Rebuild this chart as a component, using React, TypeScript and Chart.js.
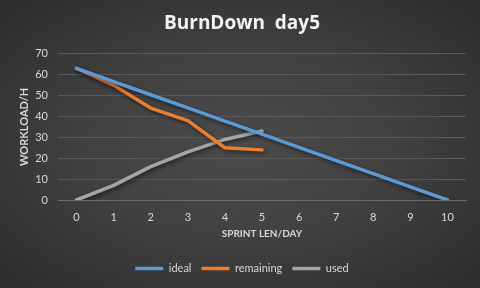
import React, { useEffect, useRef } from "react";
import { Chart, registerables } from "chart.js";

Chart.register(...registerables);

const days = ["0", "1", "2", "3", "4", "5", "6", "7", "8", "9", "10"];
const ideal = [63, 56.7, 50.4, 44.1, 37.8, 31.5, 25.2, 18.9, 12.6, 6.3, 0];
const remaining = [63, 55, 44, 38, 25, 24, null, null, null, null, null];
const used = [0, 7, 16, 23, 29, 33, null, null, null, null, null];

const FONT = "Lato, 'Open Sans', sans-serif";

export default function App() {
  const ref = useRef<HTMLCanvasElement | null>(null);
  useEffect(() => {
    document.body.style.margin = "0";
    const ctx = ref.current!;
    const shadow = {
      id: "shadow",
      beforeDatasetsDraw(chart: any) {
        const c = chart.ctx;
        c.save();
        c.shadowColor = "rgba(0,0,0,0.55)";
        c.shadowBlur = 4;
        c.shadowOffsetX = 1.5;
        c.shadowOffsetY = 2;
      },
      afterDatasetsDraw(chart: any) {
        chart.ctx.restore();
      },
    };
    const line = {
      borderWidth: 3.5,
      pointRadius: 0,
      pointHoverRadius: 0,
      pointStyle: "line" as const,
      borderCapStyle: "round" as const,
      borderJoinStyle: "round" as const,
    };
    const chart = new Chart(ctx, {
      type: "line",
      data: {
        labels: days,
        datasets: [
          { label: "ideal", data: ideal, borderColor: "#5b9bd5", backgroundColor: "#5b9bd5", ...line },
          { label: "remaining", data: remaining, borderColor: "#ed7d31", backgroundColor: "#ed7d31", ...line },
          { label: "used", data: used, borderColor: "#a5a5a5", backgroundColor: "#a5a5a5", ...line },
        ],
      },
      options: {
        responsive: false,
        animation: false,
        layout: { padding: { left: 18, right: 14, top: 8, bottom: 4 } },
        plugins: {
          title: {
            display: true,
            text: "BurnDown  day5",
            color: "#f2f2f2",
            font: { family: "'Open Sans', Lato, sans-serif", size: 19, weight: "bold" },
            padding: { top: 4, bottom: 19 },
          },
          legend: {
            position: "bottom",
            labels: {
              color: "#d9d9d9",
              font: { family: FONT, size: 11 },
              usePointStyle: true,
              pointStyle: "line",
              pointStyleWidth: 28,
              padding: 10,
            },
          },
          tooltip: { enabled: false },
        },
        scales: {
          x: {
            offset: true,
            grid: { display: false, drawTicks: false },
            border: { display: true, color: "#6b6b6b" },
            afterFit: (s: any) => {
              s.height = 53;
            },
            ticks: { color: "#d9d9d9", font: { family: FONT, size: 11 }, padding: 11, maxRotation: 0 },
            title: {
              display: true,
              text: "SPRINT LEN/DAY",
              color: "#d9d9d9",
              font: { family: FONT, size: 10, weight: "bold" },
              padding: { top: 0, bottom: 13 },
            },
          },
          y: {
            min: 0,
            max: 70,
            grid: { color: "#5a5a5a", drawTicks: false },
            border: { display: false },
            afterFit: (s: any) => {
              s.width = 40;
            },
            ticks: { stepSize: 10, color: "#d9d9d9", font: { family: FONT, size: 11 }, padding: 10 },
            title: {
              display: true,
              text: "WORKLOAD/H",
              color: "#d9d9d9",
              font: { family: FONT, size: 11, weight: "bold" },
              padding: { top: 0, bottom: 4 },
            },
          },
        },
      },
      plugins: [shadow],
    });
    return () => chart.destroy();
  }, []);
  return (
    <div
      style={{
        width: 480,
        height: 288,
        background: "radial-gradient(ellipse at center, #4b4b4b 0%, #414141 45%, #2b2b2b 100%)",
      }}
    >
      <canvas ref={ref} width={480} height={288} />
    </div>
  );
}
